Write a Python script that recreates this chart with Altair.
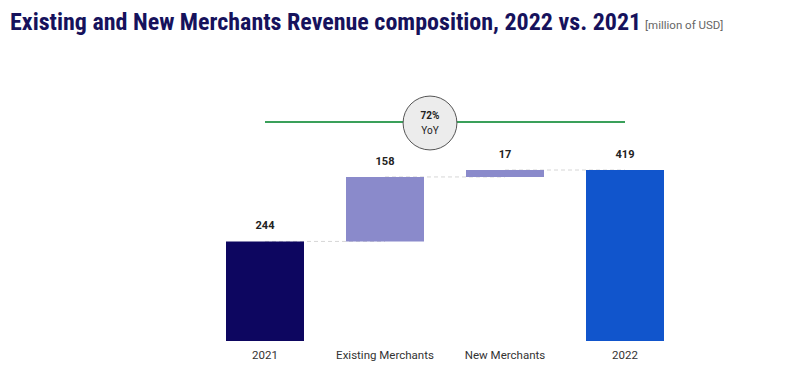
import altair as alt
import pandas as pd

categories = ["2021", "Existing Merchants", "New Merchants", "2022"]
values = [244, 158, 17, 419]
kinds = ["total", "delta", "delta", "total"]
bar_colors = ["#0d0660", "#8a8acb", "#8a8acb", "#1155cc"]
title_text = "Existing and New Merchants Revenue composition, 2022 vs. 2021"
unit_text = "[million of USD]"
yoy_pct = "72%"
yoy_label = "YoY"

# waterfall start/end from values
starts, ends = [], []
running = 0
for v, k in zip(values, kinds):
    if k == "total":
        starts.append(0)
        ends.append(v)
        running = v
    else:
        starts.append(running)
        running += v
        ends.append(running)

df = pd.DataFrame({"cat": categories, "value": values, "start": starts, "end": ends})
conn = pd.DataFrame({
    "from": categories[:-1],
    "to": categories[1:],
    "level": ends[:-1],
})

W, H = 769, 333
xscale = alt.Scale(domain=categories, range=[197, 677], paddingInner=0.35, paddingOuter=0.175)
yscale = alt.Scale(domain=[0, 816], nice=False)
xaxis = alt.Axis(title=None, domain=False, ticks=False, labelAngle=0, labelFontSize=11.5,
                 labelColor="#333333", labelPadding=8, labelFont="Roboto")

connectors = alt.Chart(conn).mark_rule(color="#d6d6d6", strokeDash=[4, 3], strokeWidth=1).encode(
    x=alt.X("from:N", scale=xscale, axis=xaxis, sort=categories),
    x2="to:N",
    y=alt.Y("level:Q", scale=yscale, axis=None),
)

bars = alt.Chart(df).mark_bar().encode(
    x=alt.X("cat:N", scale=xscale, axis=xaxis, sort=categories),
    y=alt.Y("start:Q", scale=yscale, axis=None),
    y2="end:Q",
    color=alt.Color("cat:N", scale=alt.Scale(domain=categories, range=bar_colors), legend=None),
)

labels = alt.Chart(df).mark_text(baseline="bottom", dy=-10, fontSize=11, fontWeight="bold",
                                  color="#222222", font="Roboto").encode(
    x=alt.X("cat:N", scale=xscale, sort=categories),
    y=alt.Y("end:Q", scale=yscale),
    text="value:Q",
)

green = alt.Chart(pd.DataFrame({"a": [categories[0]], "b": [categories[-1]]})).mark_rule(
    color="#3aa05a", strokeWidth=2).encode(
    x=alt.X("a:N", scale=xscale, sort=categories),
    x2="b:N",
    y=alt.value(114),
)

circle = alt.Chart(pd.DataFrame({"t": [yoy_pct]})).mark_point(
    shape="circle", filled=True, fill="#ececec", stroke="#555555", strokeWidth=1, opacity=1,
    size=2900).encode(x=alt.value(422), y=alt.value(115))

pct_text = alt.Chart(pd.DataFrame({"t": [yoy_pct]})).mark_text(
    fontSize=10, fontWeight="bold", color="#222222", font="Roboto").encode(
    x=alt.value(422), y=alt.value(108), text="t:N")
yoy_text = alt.Chart(pd.DataFrame({"t": [yoy_label]})).mark_text(
    fontSize=10, color="#222222", font="Roboto").encode(
    x=alt.value(422), y=alt.value(123), text="t:N")

title = alt.Chart(pd.DataFrame({"t": [title_text]})).mark_text(
    align="left", baseline="alphabetic", fontSize=24, fontWeight="bold", color="#16125c",
    font="Liberation Sans Narrow, Roboto Condensed, DejaVu Sans Condensed, Roboto").encode(
    x=alt.value(2), y=alt.value(22), text="t:N")
unit = alt.Chart(pd.DataFrame({"t": [unit_text]})).mark_text(
    align="left", baseline="alphabetic", fontSize=11.5, color="#666666",
    font="Liberation Sans Narrow, Roboto").encode(
    x=alt.value(637), y=alt.value(21), text="t:N")

chart = alt.layer(connectors, bars, labels, green, circle, pct_text, yoy_text, title, unit).properties(
    width=W, height=H,
    autosize=alt.AutoSizeParams(type="none"),
    padding={"left": 0, "top": 0, "right": 0, "bottom": 30},
).configure_view(stroke=None)

chart.save("out.html", embed_options={"renderer": "svg", "actions": False})
